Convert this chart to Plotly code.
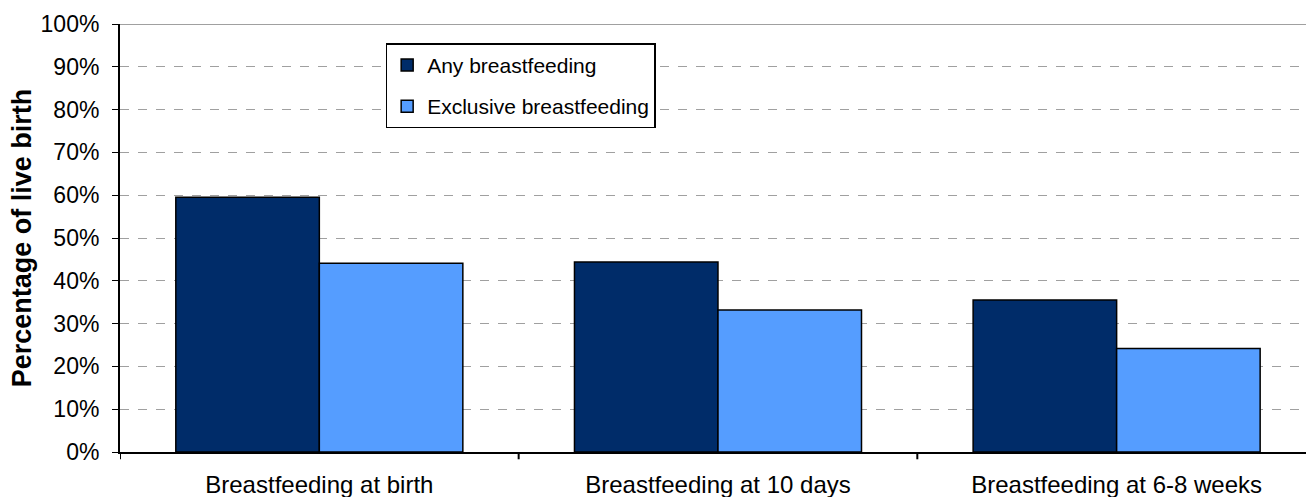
import plotly.graph_objects as go

categories = ["Breastfeeding at birth", "Breastfeeding at 10 days", "Breastfeeding at 6-8 weeks"]
any_bf = [59.5, 44.4, 35.5]
exclusive_bf = [44.1, 33.2, 24.2]
y_ticks = [0, 10, 20, 30, 40, 50, 60, 70, 80, 90, 100]
y_tick_labels = [f"{v}%" for v in y_ticks]

fig = go.Figure()
fig.add_trace(go.Bar(x=categories, y=any_bf, name="Any breastfeeding", legendgroup="a",
                     marker=dict(color="#002C69", line=dict(color="black", width=1.5))))
fig.add_trace(go.Bar(x=categories, y=exclusive_bf, name="Exclusive breastfeeding", legendgroup="b",
                     marker=dict(color="#559DFF", line=dict(color="black", width=1.5))))

font = "Liberation Sans, Arial, sans-serif"
fig.update_layout(
    width=1306, height=497,
    margin=dict(l=120, r=0, t=24, b=45),
    plot_bgcolor="white", paper_bgcolor="white",
    barmode="group", bargap=0.28, bargroupgap=0,
    font=dict(family=font, color="black", size=22),
    legend=dict(x=0.224, y=0.955, xanchor="left", yanchor="top",
                bordercolor="black", borderwidth=1.5, bgcolor="white",
                font=dict(size=21), tracegroupgap=11, traceorder="grouped"),
)
fig.update_xaxes(range=[-0.5, 2.475], showline=True, linecolor="black", linewidth=2,
                 ticks="", showgrid=False, tickfont=dict(size=24), ticklabelstandoff=10)
fig.update_yaxes(range=[0, 100], tickvals=y_ticks, ticktext=y_tick_labels,
                 showline=True, linecolor="black", linewidth=2,
                 ticks="outside", ticklen=6, tickcolor="black", ticklabelstandoff=8,
                 showgrid=True, gridcolor="#A0A0A0", griddash="dash", gridwidth=1,
                 zeroline=False, tickfont=dict(size=23),
                 title=dict(text="<b>Percentage of live birth</b>", font=dict(size=27), standoff=1))

# category boundary ticks on x axis and solid top gridline
for b in [-0.5, 0.5, 1.5]:
    fig.add_shape(type="line", xref="x", yref="paper", x0=b, x1=b, y0=0, y1=-0.017,
                  line=dict(color="black", width=2))
fig.add_shape(type="line", xref="paper", yref="y", x0=0, x1=1, y0=100, y1=100,
              line=dict(color="#A0A0A0", width=2))

fig.write_html("out.html", config={"displayModeBar": False},
               post_script="document.body.style.margin='0';document.body.style.overflow='hidden';")
